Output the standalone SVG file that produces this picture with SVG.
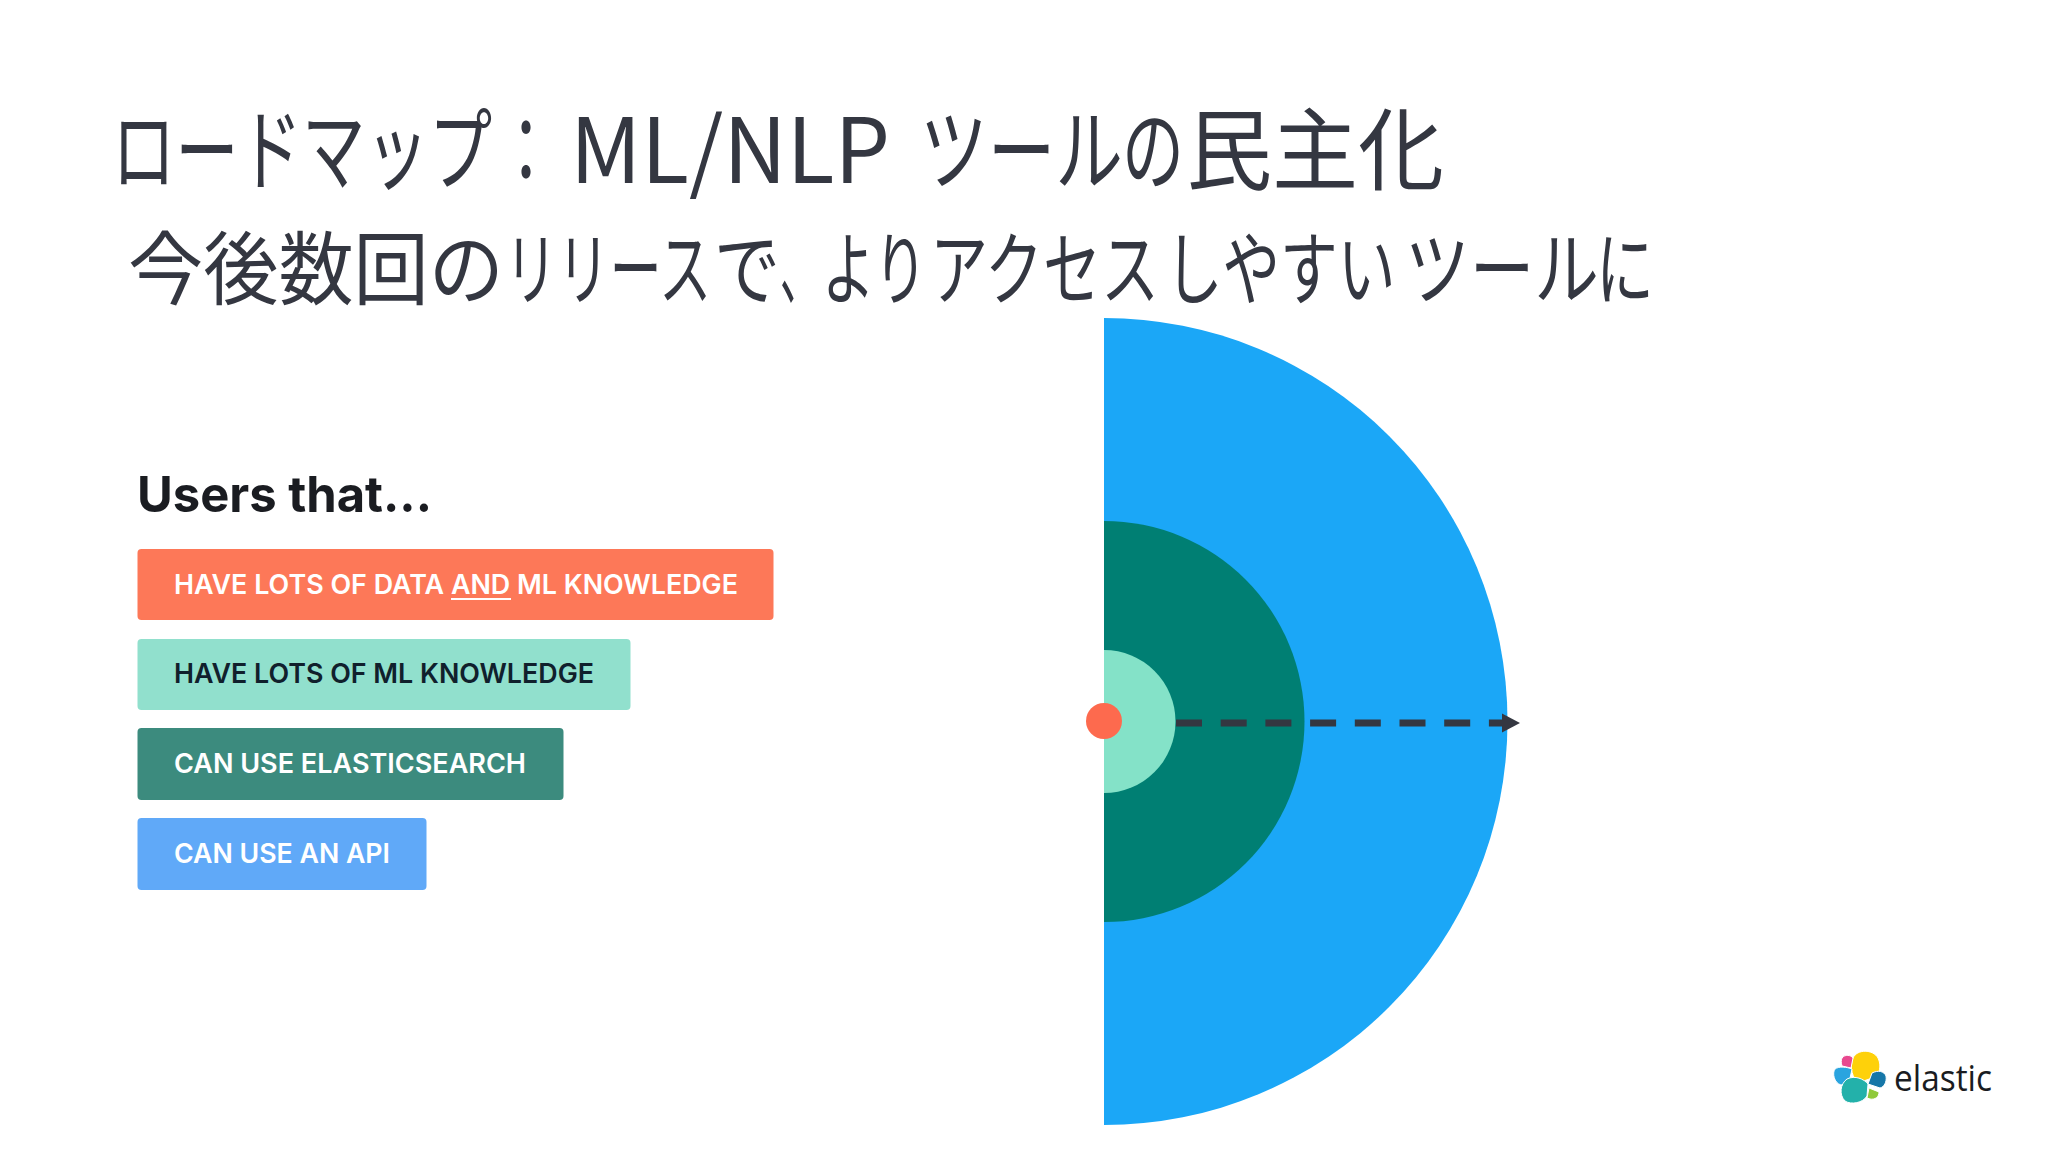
<svg xmlns="http://www.w3.org/2000/svg" width="2048" height="1152" viewBox="0 0 2048 1152">
<style>
.t{font-family:"Noto Sans CJK JP","Noto Sans",sans-serif;fill:#343741;font-weight:400}
.h1{font-size:90px}
.h2{font-size:80px}
.lbl{font-family:Inter,"Liberation Sans",sans-serif;font-size:27px;font-weight:600}
.bar{stroke:none}
.blob{stroke:#fff;stroke-width:1}
</style>
<defs>
<marker id="arr" markerUnits="userSpaceOnUse" markerWidth="20" markerHeight="20" refX="0" refY="10" orient="auto"><path d="M0 0.500L18 10L0 19.500Z" fill="#343741"/></marker>
</defs>
<rect width="2048" height="1152" fill="#fff"/>
<g id="title">
<text class="t h1" transform="translate(112 183) scale(.704 1)">ロードマップ</text>
<text class="t h1" transform="translate(496 183) scale(.667 1)">：</text>
<text class="t h1" x="570" y="183" textLength="320" lengthAdjust="spacingAndGlyphs">ML/NLP</text>
<text class="t h1" transform="translate(920 183) scale(.752 1)">ツール</text>
<text class="t h1" transform="translate(1122 183) scale(.689 1)">の</text>
<text class="t h1" transform="translate(1186 183) scale(.956 1)">民主化</text>
</g>
<g id="subtitle">
<text class="t h2" transform="translate(128 298) scale(.94 1)">今後数回の</text>
<text class="t h2" transform="translate(505 298) scale(.653 1)">リリース</text>
<text class="t h2" transform="translate(714 298) scale(.825 1)">で</text>
<text class="t h2" transform="translate(780 298) scale(.5 1)">、</text>
<text class="t h2" transform="translate(822 298) scale(.6625 1)">より</text>
<text class="t h2" transform="translate(930 298) scale(.725 1)">アクセス</text>
<text class="t h2" transform="translate(1165 298) scale(.722 1)">しやすい</text>
<text class="t h2" transform="translate(1405 298) scale(.808 1)">ツール</text>
<text class="t h2" transform="translate(1596 298) scale(.725 1)">に</text>
</g>
<g id="users-heading"><text x="137" y="512" font-family="Inter,'Liberation Sans',sans-serif" font-size="50" font-weight="700" fill="#1a1c21" textLength="295" lengthAdjust="spacingAndGlyphs">Users that...</text></g>
<g id="bar-data-ml"><rect class="bar" x="137.500" y="549" width="636" height="71" rx="4" fill="#fd7858"/><text class="lbl" x="174" y="594" fill="#fff" textLength="564" lengthAdjust="spacingAndGlyphs">HAVE LOTS OF DATA AND ML KNOWLEDGE</text><rect x="451" y="598" width="60" height="2" fill="#fff"/></g>
<g id="bar-ml"><rect class="bar" x="137.500" y="639" width="493" height="71" rx="4" fill="#91e0cd"/><text class="lbl" x="174" y="683" fill="#10202c" textLength="420" lengthAdjust="spacingAndGlyphs">HAVE LOTS OF ML KNOWLEDGE</text></g>
<g id="bar-es"><rect class="bar" x="137.500" y="728" width="426" height="72" rx="4" fill="#3c8b7e"/><text class="lbl" x="174" y="773" fill="#fff" textLength="352" lengthAdjust="spacingAndGlyphs">CAN USE ELASTICSEARCH</text></g>
<g id="bar-api"><rect class="bar" x="137.500" y="818" width="289" height="72" rx="4" fill="#60a9f8"/><text class="lbl" x="174" y="863" fill="#fff" textLength="216" lengthAdjust="spacingAndGlyphs">CAN USE AN API</text></g>
<g id="ring-api"><path d="M1104 318A403.500 403.500 0 0 1 1104 1125Z" fill="#1ba7f7"/></g>
<g id="ring-es"><path d="M1104 521A200.500 200.500 0 0 1 1104 922Z" fill="#007f73"/></g>
<g id="ring-ml"><path d="M1104 650A71.500 71.500 0 0 1 1104 793Z" fill="#84e2c8"/></g>
<g id="core"><circle cx="1104" cy="721" r="18" fill="#fd6a4e"/></g>
<g id="connectors"><line x1="1176" y1="723" x2="1502" y2="723" stroke="#343741" stroke-width="7" stroke-dasharray="26 18.700" marker-end="url(#arr)"/></g>
<g id="elastic-logo">
<path class="blob" d="M1853 1058C1857 1049 1873 1049 1878 1058C1882 1066 1879 1075 1875 1077L1858 1083C1853 1078 1849 1068 1853 1058Z" fill="#fed10a"/>
<path class="blob" d="M1842 1058C1845 1054 1851 1055 1853 1058L1851 1068L1842 1066C1841 1063 1841 1060 1842 1058Z" fill="#e8488f"/>
<path class="blob" d="M1835 1069C1839 1066 1847 1067 1852 1069L1849 1083L1841 1085C1834 1083 1832 1073 1835 1069Z" fill="#2aa4df"/>
<path class="blob" d="M1872 1073C1878 1070 1884 1071 1886 1076C1887 1082 1884 1087 1880 1088L1868 1084Z" fill="#1677a8"/>
<path class="blob" d="M1847 1079C1855 1075 1864 1079 1868 1084L1867 1096C1863 1103 1851 1105 1845 1101C1839 1095 1840 1084 1847 1079Z" fill="#23b1aa"/>
<path class="blob" d="M1869 1088L1879 1092C1879 1097 1875 1100 1870 1099L1867 1098Z" fill="#8fc93a"/>
<text x="1894" y="1091" font-family="'Open Sans','Noto Sans',sans-serif" font-size="36" fill="#1a1c21" textLength="98" lengthAdjust="spacingAndGlyphs">elastic</text>
</g>
</svg>
